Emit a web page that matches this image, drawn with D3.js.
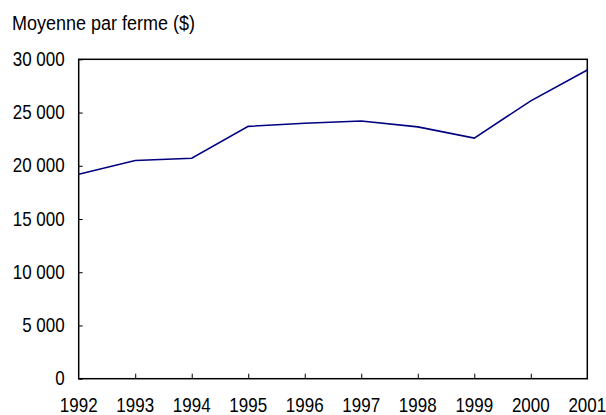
<!DOCTYPE html>
<html>
<head>
<meta charset="utf-8">
<script src="https://cdn.jsdelivr.net/npm/d3@7"></script>
<style>
  body { margin: 0; background: #fff; }
  text { font-family: "Liberation Sans", Arial, sans-serif; fill: #000; }
</style>
</head>
<body>
<svg id="svg1" width="606" height="415"></svg>
<script>
var years = [1992, 1993, 1994, 1995, 1996, 1997, 1998, 1999, 2000, 2001];
var moyenne = [19200, 20500, 20700, 23700, 24000, 24200, 23650, 22600, 26100, 29000];   // $ par ferme
var yTicks = [0, 5000, 10000, 15000, 20000, 25000, 30000];
var titre = "Moyenne par ferme ($)";

var svg = d3.select("#svg1");
// plot box (don't call it "top", window.top is taken)
var pLeft = 78.7, pRight = 587.3, pTop = 59.3, pBottom = 378.7;
var stretch = 1.2;   // the original glyphs are taller than plain Arial

var x = d3.scaleLinear().domain([1992, 2001]).range([pLeft, pRight]);
var y = d3.scaleLinear().domain([0, 30000]).range([pBottom, pTop]);

// french style thousands: "30 000"
function fmt(d) { return d3.format(",")(d).replace(/,/g, " "); }

// y axis, ticks pointing inside the plot
svg.append("g")
    .attr("transform", "translate(" + pLeft + ",0)")
    .call(d3.axisRight(y).tickValues(yTicks).tickSize(4).tickFormat(""))
    .call(function(g) { g.select(".domain").remove(); })
    .selectAll("line").attr("stroke", "#000").attr("stroke-width", 1);

svg.selectAll(".ylab")
    .data(yTicks)
    .enter()
    .append("text")
    .attr("class", "ylab")
    .attr("transform", function(d) {
        return "translate(" + (pLeft - 14) + "," + (y(d) + 6.5) + ") scale(1," + stretch + ")";
    })
    .attr("text-anchor", "end")
    .style("font-size", "17px")
    .text(fmt);

// x axis, ticks pointing up
svg.append("g")
    .attr("transform", "translate(0," + pBottom + ")")
    .call(d3.axisTop(x).tickValues(years.slice(1, -1)).tickSize(5).tickFormat(""))
    .call(function(g) { g.select(".domain").remove(); })
    .selectAll("line").attr("stroke", "#000").attr("stroke-width", 1);

svg.selectAll(".xlab")
    .data(years)
    .enter()
    .append("text")
    .attr("class", "xlab")
    .attr("transform", function(d) {
        return "translate(" + x(d) + ",411.5) scale(1," + stretch + ")";
    })
    .attr("text-anchor", "middle")
    .style("font-size", "17px")
    .text(function(d) { return d; });

// frame
svg.append("rect")
    .attr("x", pLeft).attr("y", pTop)
    .attr("width", pRight - pLeft).attr("height", pBottom - pTop)
    .attr("fill", "none").attr("stroke", "#000").attr("stroke-width", 1.5);

// the line
var line = d3.line()
    .x(function(d, i) { return x(years[i]); })
    .y(function(d) { return y(d); });

svg.append("path")
    .datum(moyenne)
    .attr("d", line)
    .attr("fill", "none")
    .attr("stroke", "#000080")
    .attr("stroke-width", 1.6);

svg.append("text")
    .attr("transform", "translate(12,30) scale(1,1.1)")
    .style("font-size", "18px")
    .text(titre);
</script>
</body>
</html>
